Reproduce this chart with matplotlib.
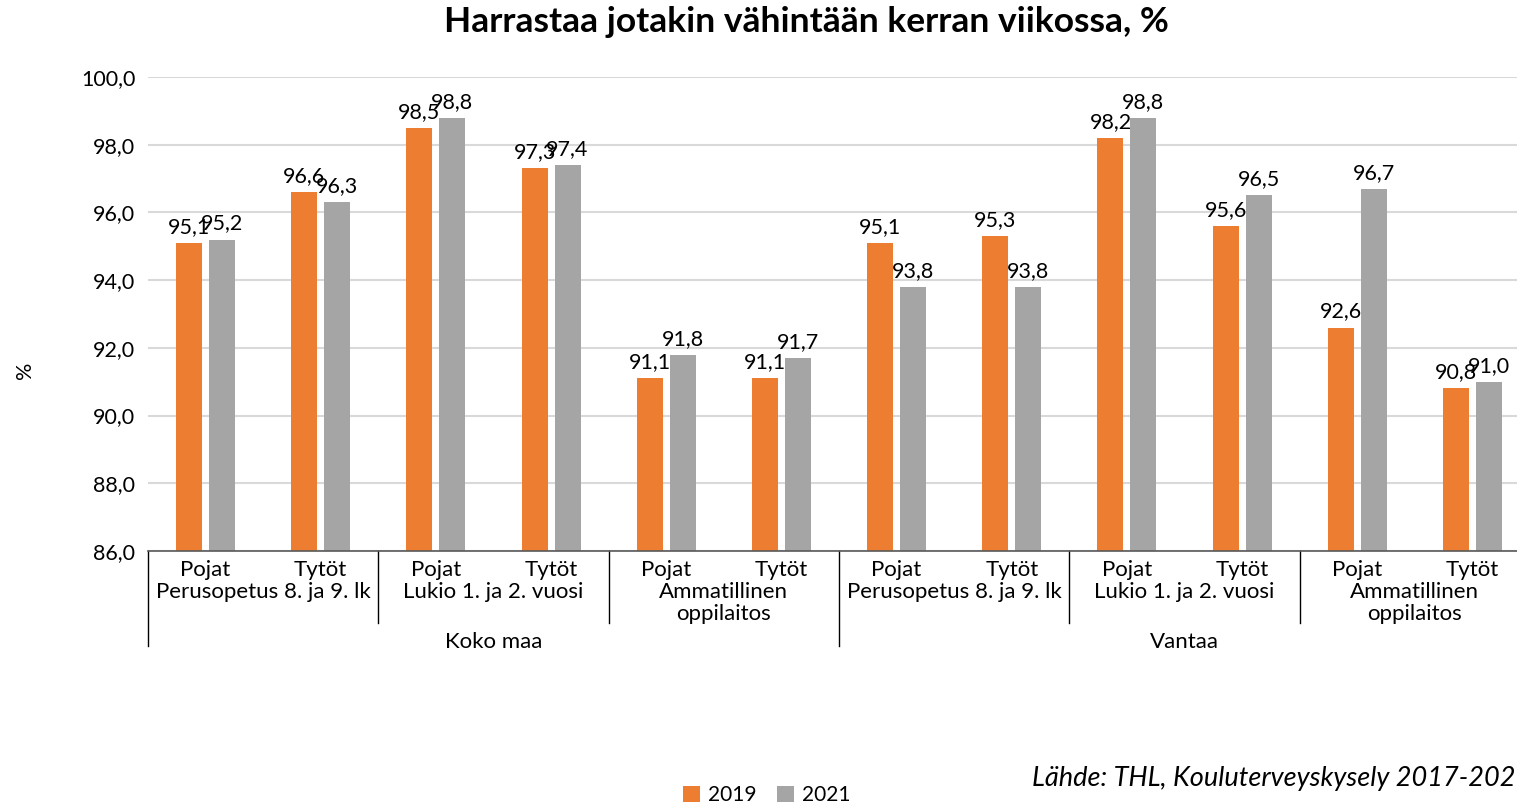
import matplotlib
matplotlib.use('Agg')
from matplotlib import pyplot as plt

plt.rcParams['font.family'] = ['Lato', 'DejaVu Sans']

# data
sub_labels = ['Pojat', 'Tytöt'] * 6
mid_labels = ['Perusopetus 8. ja 9. lk', 'Lukio 1. ja 2. vuosi', 'Ammatillinen\noppilaitos'] * 2
top_labels = ['Koko maa', 'Vantaa']
values_2019 = [95.1, 96.6, 98.5, 97.3, 91.1, 91.1, 95.1, 95.3, 98.2, 95.6, 92.6, 90.8]
values_2021 = [95.2, 96.3, 98.8, 97.4, 91.8, 91.7, 93.8, 93.8, 98.8, 96.5, 96.7, 91.0]
y_ticks = [86, 88, 90, 92, 94, 96, 98, 100]

c2019 = '#ED7D31'
c2021 = '#A5A5A5'

W, H = 1517, 805
fig = plt.figure(figsize=(W / 100, H / 100), dpi=100)
ax = fig.add_axes([148 / W, (H - 551) / H, (1530 - 148) / W, (551 - 77) / H])

n = len(values_2019)
x = list(range(n))
bw = 0.226
off = 0.143
b1 = ax.bar([i - off for i in x], [v - 86 for v in values_2019], bw, bottom=86,
            color=c2019, label='2019', zorder=3)
b2 = ax.bar([i + off for i in x], [v - 86 for v in values_2021], bw, bottom=86,
            color=c2021, label='2021', zorder=3)

for i in x:
    ax.annotate(f'{values_2019[i]:.1f}'.replace('.', ','), (i - off, values_2019[i]),
                xytext=(0, 6), textcoords='offset pixels', ha='center', va='bottom',
                fontsize=15.5, color='#000000', zorder=4)
    ax.annotate(f'{values_2021[i]:.1f}'.replace('.', ','), (i + off, values_2021[i]),
                xytext=(0, 6), textcoords='offset pixels', ha='center', va='bottom',
                fontsize=15.5, color='#000000', zorder=4)

ax.set_xlim(-0.5, n - 0.5)
ax.set_ylim(86, 100)
ax.set_yticks(y_ticks)
ax.set_yticklabels([f'{t:.1f}'.replace('.', ',') for t in y_ticks], fontsize=15.5)
ax.tick_params(axis='y', length=0, pad=9)
ax.set_xticks([])
ax.grid(axis='y', color='#D9D9D9', linewidth=1.5, zorder=0)
for s in ['left', 'right', 'top']:
    ax.spines[s].set_visible(False)
ax.spines['bottom'].set_color('#595959')
ax.spines['bottom'].set_linewidth(1.2)
ax.spines['bottom'].set_zorder(5)

tr = ax.get_xaxis_transform()
ph = 474.0
# category labels
for i in x:
    ax.text(i, -19 / ph, sub_labels[i], transform=tr, ha='center', va='center', fontsize=16)
for k, lab in enumerate(mid_labels):
    ax.text(2 * k + 0.5, -31 / ph, lab, transform=tr, ha='center', va='top',
            fontsize=16, linespacing=1.15)
for k, lab in enumerate(top_labels):
    ax.text(6 * k + 2.5, -91 / ph, lab, transform=tr, ha='center', va='center', fontsize=16)

# separators
for k in range(7):
    xs = 2 * k - 0.5
    low = -95 / ph if k % 3 == 0 else -72 / ph
    ax.plot([xs, xs], [0, low], transform=tr, color='#000000', linewidth=1.0, clip_on=False)

fig.text(806 / W, 1 - 22 / H, 'Harrastaa jotakin vähintään kerran viikossa, %',
         ha='center', va='center', fontsize=25.5, fontweight='bold')
fig.text(25 / W, 1 - 370 / H, '%', rotation=90, ha='center', va='center', fontsize=15.5)

fig.legend(handles=[b1, b2], labels=['2019', '2021'], loc='center',
           bbox_to_anchor=(767 / W, 1 - 795 / H), ncol=2, frameon=False, fontsize=15,
           handlelength=0.8, handleheight=0.8, handletextpad=0.4, columnspacing=1.0)
fig.text(1032 / W, 1 - 778 / H, 'Lähde: THL, Kouluterveyskysely 2017-2021',
         ha='left', va='center', fontsize=19.5, style='italic')

fig.savefig('out.png', dpi=100)
